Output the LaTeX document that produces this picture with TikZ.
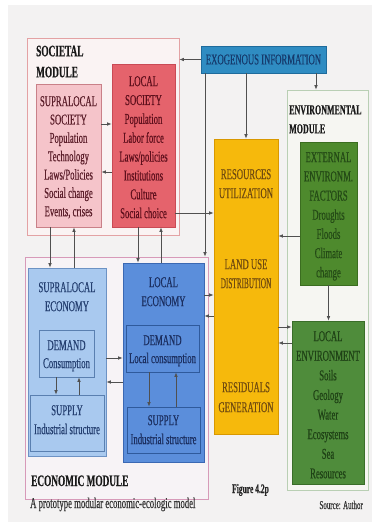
\documentclass[tikz,border=0pt]{standalone}
\usepackage{fontspec}
\setmainfont[FakeStretch=0.58,FakeBold=0.4]{Liberation Serif}
\usetikzlibrary{arrows.meta}
\definecolor{pagebg}{HTML}{F3F2F2}
\definecolor{socB}{HTML}{E3A2A4}\definecolor{socF}{HTML}{FAF3F3}
\definecolor{supsocF}{HTML}{F5C4CA}\definecolor{supsocB}{HTML}{C98088}\definecolor{supsocT}{HTML}{5B1E2A}
\definecolor{locsocF}{HTML}{E5636C}\definecolor{locsocB}{HTML}{C94A55}\definecolor{locsocT}{HTML}{5E0F1C}
\definecolor{exogF}{HTML}{2F8CC2}\definecolor{exogB}{HTML}{1E6B9C}\definecolor{exogT}{HTML}{163A6C}
\definecolor{yelF}{HTML}{F6B90C}\definecolor{yelB}{HTML}{D89800}\definecolor{yelT}{HTML}{6F4A10}
\definecolor{envB}{HTML}{B9CFB4}\definecolor{envF}{HTML}{F6F6F2}
\definecolor{extF}{HTML}{4E8A2D}\definecolor{extB}{HTML}{3B6D20}\definecolor{extT}{HTML}{244A16}
\definecolor{lenvF}{HTML}{4F8C3B}\definecolor{lenvB}{HTML}{3A6D29}\definecolor{lenvT}{HTML}{1F4216}
\definecolor{ecoB}{HTML}{D79AB9}\definecolor{ecoF}{HTML}{F7F3F6}
\definecolor{supecoF}{HTML}{A9C9EF}\definecolor{supecoB}{HTML}{6D92C4}\definecolor{supecoT}{HTML}{243F70}\definecolor{supinB}{HTML}{5A7FB0}
\definecolor{locecoF}{HTML}{5B8EDB}\definecolor{locecoB}{HTML}{3B68B3}\definecolor{locecoT}{HTML}{1B2E5F}\definecolor{locinB}{HTML}{2F5A9C}
\definecolor{linec}{HTML}{505050}
\begin{document}
\begin{tikzpicture}[x=1pt,y=-1pt,
  bx/.style={draw, inner sep=0pt, line width=0.8pt, anchor=center},
  tx/.style={inner sep=0pt, anchor=north, align=center, font=\fontsize{15}{#1}\selectfont},
  tx/.default=18.8,
  ttl/.style={inner sep=0pt, anchor=north west, align=left, text=black!90},
  arr/.style={draw=linec, line width=0.7pt, -{Latex[length=4.5pt,width=3.6pt]}}]
\useasboundingbox (0,0) rectangle (377,526);
\fill[white] (0,0) rectangle (377,526);
\fill[pagebg] (8,5) rectangle (372,522);

% modules
\node[bx, draw=socB, fill=socF, minimum width=152, minimum height=197] (socmod) at (103,136.5) {};
\node[bx, draw=envB, fill=envF, minimum width=81, minimum height=400] (envmod) at (327.5,290) {};
\node[bx, draw=ecoB, fill=ecoF, minimum width=183, minimum height=242] (ecomod) at (116.5,378) {};

% boxes
\node[bx, draw=supsocB, fill=supsocF, minimum width=65, minimum height=143] (supsoc) at (68.5,155.5) {};
\node[bx, draw=locsocB, fill=locsocF, minimum width=63, minimum height=163] (locsoc) at (143.5,145.5) {};
\node[bx, draw=exogB, fill=exogF, minimum width=125, minimum height=27, text=exogT, font=\fontsize{15}{17}\selectfont] (exog) at (263.5,59.5) {EXOGENOUS INFORMATION};
\node[bx, draw=yelB, fill=yelF, minimum width=64, minimum height=295] (landuse) at (246,286.5) {};
\node[bx, draw=extB, fill=extF, minimum width=57, minimum height=143] (extenv) at (328.5,213.5) {};
\node[bx, draw=lenvB, fill=lenvF, minimum width=72, minimum height=163] (locenv) at (328,402.5) {};
\node[bx, draw=supecoB, fill=supecoF, minimum width=78, minimum height=188] (supeco) at (67,362) {};
\node[bx, draw=supinB, fill=supecoF, minimum width=55, minimum height=47] (supdem) at (66.5,353.5) {};
\node[bx, draw=supinB, fill=supecoF, minimum width=74, minimum height=56] (supsup) at (67,423) {};
\node[bx, draw=locecoB, fill=locecoF, minimum width=81, minimum height=199] (loceco) at (163.5,362.5) {};
\node[bx, draw=locinB, fill=locecoF, minimum width=73, minimum height=47] (locdem) at (162.5,348.5) {};
\node[bx, draw=locinB, fill=locecoF, minimum width=73, minimum height=46] (locsup) at (163.5,430) {};

% titles
\node[ttl, font=\bfseries\fontsize{16}{21}\selectfont] (soctitle) at (36,45.5) {SOCIETAL\\MODULE};
\node[ttl, font=\bfseries\fontsize{13.8}{19}\selectfont] (envtitle) at (289,105) {ENVIRONMENTAL\\MODULE};
\node[inner sep=0pt, anchor=base west, font=\bfseries\fontsize{16}{18}\selectfont, text=black!90] (ecotitle) at (31,486) {ECONOMIC MODULE};

% box texts
\node[tx=18.35, text=supsocT] (supsoct) at (68.5,96) {SUPRALOCAL\\SOCIETY\\Population\\Technology\\Laws/Policies\\Social change\\Events, crises};
\node[tx=18.86, text=locsocT] (locsoct) at (143.5,76) {LOCAL\\SOCIETY\\Population\\Labor force\\Laws/policies\\Institutions\\Culture\\Social choice};
\node[tx=19.2, text=extT] (extenvt) at (328.5,152) {EXTERNAL\\ENVIRONM.\\FACTORS\\Droughts\\Floods\\Climate\\change};
\node[tx=19.6, text=lenvT] (locenvt) at (328,331) {LOCAL\\ENVIRONMENT\\Soils\\Geology\\Water\\Ecosystems\\Sea\\Resources};
\node[tx=19, text=yelT] (rest) at (246,169) {RESOURCES\\UTILIZATION};
\node[tx=19, text=yelT] (landt) at (246,259) {LAND USE\\\scalebox{0.83}[1]{DISTRIBUTION}};
\node[tx=20, text=yelT] (resit) at (246,382) {RESIDUALS\\GENERATION};
\node[tx=19, text=supecoT] (supecot) at (67,282) {SUPRALOCAL\\ECONOMY};
\node[tx=19, text=locecoT] (locecot) at (163.5,277) {LOCAL\\ECONOMY};
\node[tx=18, text=supecoT] (supdemt) at (66.5,340) {DEMAND\\Consumption};
\node[tx=19, text=supecoT] (supsupt) at (67,405) {SUPPLY\\Industrial structure};
\node[tx=18, text=locecoT] (locdemt) at (162.5,335) {DEMAND\\Local consumption};
\node[tx=19, text=locecoT] (locsupt) at (163.5,415) {SUPPLY\\Industrial structure};

% captions
\node[inner sep=0pt, anchor=base west, font=\fontsize{15}{17}\selectfont, text=black!80] (cap) at (30,508) {A prototype modular economic-ecologic model};
\node[inner sep=0pt, anchor=base, font=\bfseries\fontsize{13}{15}\selectfont, text=black!85] (fig) at (250.5,493) {Figure 4.2p};
\node[inner sep=0pt, anchor=base east, font=\fontsize{12}{14}\selectfont, text=black!80] (src) at (363,509) {Source: Author};

% connectors
\draw[arr] (exog.west) -- (exog.west -| socmod.east);
\draw[arr] (exog.south -| 205,0) -- (ecomod.north -| 205,0);
\draw[arr] (exog.south -| landuse.north) -- (landuse.north);
\draw[arr] (exog.south -| 316,0) -- (envmod.north -| 316,0);
\draw[arr] (supsoc.east |- 0,124) -- (locsoc.west |- 0,124);
\draw[arr] (locsoc.west |- 0,172) -- (supsoc.east |- 0,172);
\draw[arr] (locsoc.east |- 0,213) -- (landuse.west |- 0,213);
\draw[arr] (extenv.west |- 0,236) -- (landuse.east |- 0,236);
\draw[arr] (extenv.south) -- (extenv.south |- locenv.north);
\draw[arr] (landuse.east |- 0,327) -- (locenv.west |- 0,327);
\draw[arr] (locenv.west |- 0,343) -- (landuse.east |- 0,343);
\draw[arr] (loceco.east |- 0,295) -- (landuse.west |- 0,295);
\draw[arr] (landuse.west |- 0,316) -- (loceco.east |- 0,316);
\draw[arr] (supsoc.south -| 50,0) -- (supeco.north -| 50,0);
\draw[arr] (supeco.north -| 74,0) -- (supsoc.south -| 74,0);
\draw[arr] (locsoc.south -| 138,0) -- (loceco.north -| 138,0);
\draw[arr] (loceco.north -| 161,0) -- (locsoc.south -| 161,0);
\draw[arr] (supeco.east |- 0,358) -- (loceco.west |- 0,358);
\draw[arr] (loceco.west |- 0,382) -- (supeco.east |- 0,382);
\draw[arr] (supdem.south -| 56,0) -- (supsup.north -| 56,0);
\draw[arr] (supsup.north -| 79,0) -- (supdem.south -| 79,0);
\draw[arr] (locdem.south -| 149,0) -- (locsup.north -| 149,0);
\draw[arr] (locsup.north -| 176,0) -- (locdem.south -| 176,0);
\end{tikzpicture}
\end{document}
